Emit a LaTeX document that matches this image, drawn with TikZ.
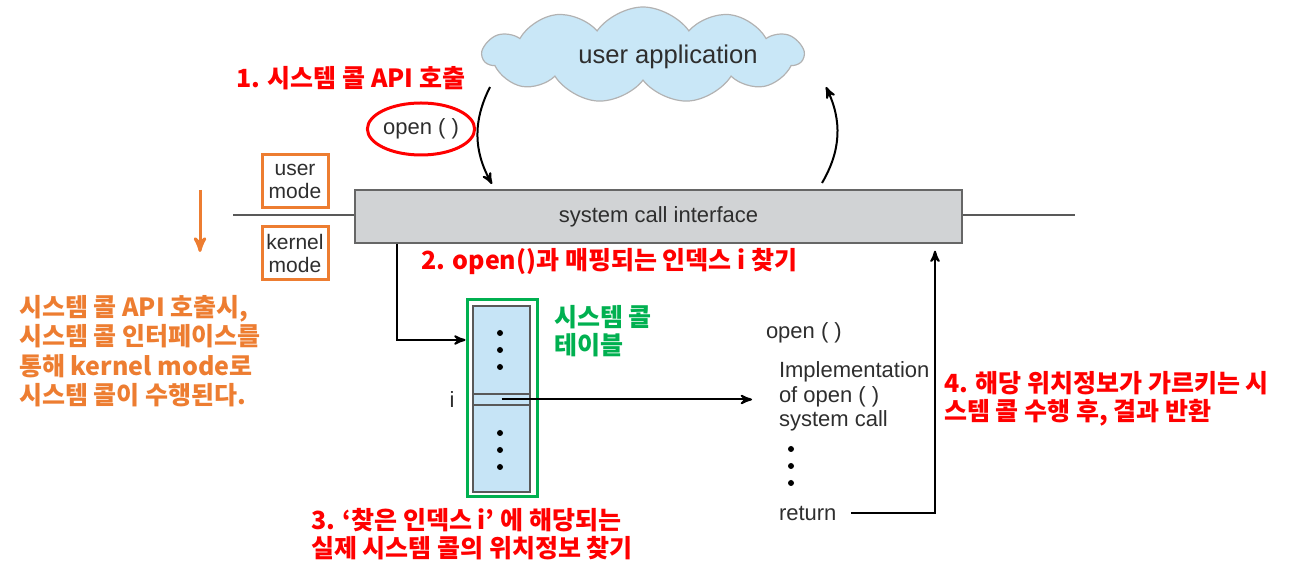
\documentclass[tikz,border=0pt]{standalone}
\usepackage{fontspec}
\setmainfont{Liberation Sans}
\newfontfamily\krfont{Noto Sans CJK KR}
\usetikzlibrary{arrows,shapes.geometric,shapes.symbols}
\definecolor{krred}{HTML}{FF0000}
\definecolor{modeorange}{HTML}{ED7D31}
\definecolor{tblgreen}{HTML}{00B050}
\definecolor{txtgray}{HTML}{2E2E2E}
\definecolor{cloudblue}{HTML}{C9E7F7}
\definecolor{scigray}{HTML}{D1D3D5}
\definecolor{tblblue}{HTML}{C6E4F6}
\tikzset{kr note/.style={font=\krfont\bfseries\fontsize{12.5}{14.2}\selectfont,inner sep=0pt,align=left,anchor=west},
}

\begin{document}
\begin{tikzpicture}[x=0.5pt,y=-0.5pt,>=stealth',line width=1pt,
		txt/.style={font=\fontsize{11}{12.3}\selectfont,text=txtgray,inner sep=0pt,align=left,anchor=west},
		mode box/.style={draw=modeorange,line width=1.5pt,minimum width=33pt,minimum height=26.5pt,inner sep=0pt,align=center,font=\fontsize{10.5}{11.5}\selectfont,text=txtgray},
		dot/.style={circle,fill=black,inner sep=0pt,minimum size=3pt}]
		
		\useasboundingbox (0,0) rectangle (1308,576);
		
		\node[cloud,cloud puffs=11,cloud puff arc=110,aspect=3.1,draw=gray!60,line width=0.6pt,fill=cloudblue,minimum width=160pt,minimum height=48pt] (app) at (643,55) {};
		\node[txt,anchor=center,font=\fontsize{12.8}{14}\selectfont] (apptext) at (668,57) {user application};
		
		\node[draw=gray!80!black,line width=0.7pt,fill=scigray,minimum width=303.5pt,minimum height=26.5pt,font=\fontsize{11}{12}\selectfont,text=txtgray] (sci) at (658.5,216.5) {system call interface};
		\coordinate (lineleft) at (233,215);
		\coordinate (lineright) at (1075,215);
		\draw[gray!70!black,line width=0.7pt] (lineleft) -- (lineleft -| sci.west);
		\draw[gray!70!black,line width=0.7pt] (sci.east |- lineright) -- (lineright);
		
		\node[mode box] (usermode) at (295,181.5) {user\\mode};
		\node[mode box] (kernelmode) at (295,253) {kernel\\mode};
		\coordinate (modetop) at (200,190);
		\coordinate (modebot) at (200,252);
		\draw[->,modeorange,line width=1.5pt] (modetop) -- (modebot);
		
		\node[txt,anchor=center,ellipse,draw=krred,line width=1.5pt,minimum width=44.5pt,minimum height=26pt,inner sep=0pt] (opencall) at (421,129) {open ( )};
		\coordinate (callstart) at (490,87);
		\coordinate (callend) at (492,184);
		\coordinate (retstart) at (822,183);
		\coordinate (retend) at (826,87);
		\draw[->] (callstart) to[bend right=28] (callend);
		\draw[->] (retstart) to[bend right=28] (retend);
		
		\node[draw=tblgreen,line width=1.5pt,minimum width=35pt,minimum height=98.5pt,inner sep=0pt] (tblframe) at (502,398.5) {};
		\node[draw=gray!70!black,fill=tblblue,line width=0.6pt,minimum width=28.5pt,minimum height=93pt,inner sep=0pt] (tbl) at (501.5,399) {};
		\node[draw=gray!70!black,line width=0.6pt,minimum width=28.5pt,minimum height=5.5pt,inner sep=0pt] (slot) at (501.5,399.5) {};
		\foreach \y in {333,350,367,433,450,467}
		\node[dot] at (500,\y) {};
		\node[txt,anchor=center] (idx) at (452,400) {i};
		
		\coordinate (downx) at (397,340);
		\draw[->] (sci.south -| downx) |- (tblframe.west |- downx);
		
		\node[txt] (implname) at (765,333) {open ( )};
		\node[txt] (impl) at (778,396.5) {Implementation\\of open ( )\\system call};
		\foreach \y in {449,466,483}
		\node[dot] at (791,\y) {};
		\node[txt] (ret) at (778,513) {return};
		\coordinate (implin) at (752,399.5);
		\draw[->] (slot.center) -- (implin);
		\coordinate (upx) at (935,0);
		\draw[->,shorten <=7pt,shorten >=3.5pt] (ret.east) -| (sci.south -| upx);
		
		\node[kr note,text=krred] (step1) at (235,78) {1. 시스템 콜 API 호출};
		\node[kr note,text=krred] (step2) at (420,262) {2. open()과 매핑되는 인덱스 i 찾기};
		\node[kr note,text=krred] (step3) at (310,534) {3. ‘찾은 인덱스 i’ 에 해당되는\\실제 시스템 콜의 위치정보 찾기};
		\node[kr note,text=krred] (step4) at (943,399) {4. 해당 위치정보가 가르키는 시\\스템 콜 수행 후, 결과 반환};
		\node[kr note,text=tblgreen] (tblname) at (553,331) {시스템 콜\\테이블};
		\node[kr note,text=modeorange,font=\krfont\bfseries\fontsize{12.5}{14.7}\selectfont] (modenote) at (18,351) {시스템 콜 API 호출시,\\시스템 콜 인터페이스를\\통해 kernel mode로\\시스템 콜이 수행된다.};
		
		\end{tikzpicture}
\end{document}
